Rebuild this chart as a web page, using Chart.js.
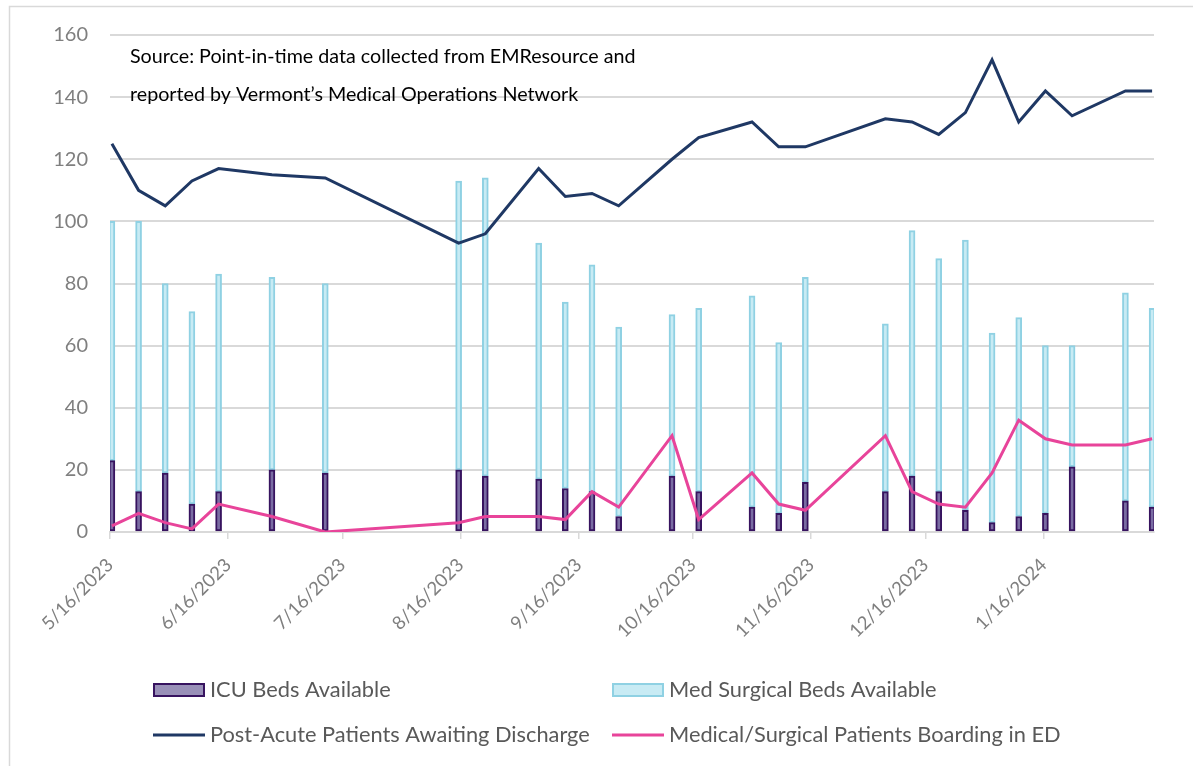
<!DOCTYPE html>
<html>
<head>
<meta charset="utf-8">
<script src="https://cdn.jsdelivr.net/npm/chart.js@4.4.1/dist/chart.umd.min.js"></script>
<style>
  html, body { margin: 0; padding: 0; background: #fff; }
  #wrap { position: relative; width: 1193px; height: 766px; }
</style>
</head>
<body>
<div id="wrap"><canvas id="chart" width="1193" height="766"></canvas></div>
<script>
/* weekly point-in-time snapshots */
const dates = [
  '2023-05-16', '2023-05-23', '2023-05-30', '2023-06-06', '2023-06-13', '2023-06-27', '2023-07-11',
  '2023-08-15', '2023-08-22', '2023-09-05', '2023-09-12', '2023-09-19', '2023-09-26', '2023-10-10',
  '2023-10-17', '2023-10-31', '2023-11-07', '2023-11-14', '2023-12-05', '2023-12-12', '2023-12-19',
  '2023-12-26', '2024-01-02', '2024-01-09', '2024-01-16', '2024-01-23', '2024-02-06', '2024-02-13'
];
const icuBeds     = [23, 13, 19, 9, 13, 20, 19, 20, 18, 17, 14, 13, 5, 18, 13, 8, 6, 16, 13, 18, 13, 7, 3, 5, 6, 21, 10, 8];
const medSurgBeds = [77, 87, 61, 62, 70, 62, 61, 93, 96, 76, 60, 73, 61, 52, 59, 68, 55, 66, 54, 79, 75, 87, 61, 64, 54, 39, 67, 64];
const postAcute   = [125, 110, 105, 113, 117, 115, 114, 93, 96, 117, 108, 109, 105, 120, 127, 132, 124, 124, 133, 132, 128, 135, 152, 132, 142, 134, 142, 142];
const edBoarding  = [2, 6, 3, 1, 9, 5, 0, 3, 5, 5, 4, 13, 8, 31, 4, 19, 9, 7, 31, 13, 9, 8, 19, 36, 30, 28, 28, 30];

const tickDates  = ['2023-05-16', '2023-06-16', '2023-07-16', '2023-08-16', '2023-09-16', '2023-10-16', '2023-11-16', '2023-12-16', '2024-01-16'];
const tickLabels = ['5/16/2023', '6/16/2023', '7/16/2023', '8/16/2023', '9/16/2023', '10/16/2023', '11/16/2023', '12/16/2023', '1/16/2024'];
const axisStart = '2023-05-16';
const axisEnd   = '2024-02-14';

const sourceLines = [
  'Source: Point-in-time data collected from EMResource and',
  'reported by Vermont\u2019s Medical Operations Network'
];

const FONT = 'Lato, "Open Sans", sans-serif';
const GRID = '#d9d9d9';

function dayNum(s) { return (Date.parse(s) - Date.parse(axisStart)) / 86400000; }
// Excel date axis puts each mark in the middle of its day
function pts(vals) { return dates.map((d, i) => ({ x: dayNum(d) + 0.5, y: vals[i] })); }

const framePlugin = {
  id: 'frame',
  beforeDraw(chart) {
    const c = chart.ctx;
    c.save();
    c.strokeStyle = GRID;
    c.lineWidth = 1.5;
    c.beginPath();
    c.moveTo(9.5, 2000); c.lineTo(9.5, 6.5); c.lineTo(2000, 6.5);
    c.stroke();
    c.restore();
  }
};

const sourcePlugin = {
  id: 'source',
  afterDraw(chart) {
    const c = chart.ctx;
    c.save();
    c.font = '19.7px ' + FONT;
    c.fillStyle = '#000';
    c.textBaseline = 'middle';
    sourceLines.forEach((t, i) => c.fillText(t, 130, 57 + i * 38));
    c.restore();
  }
};

const legendPlugin = {
  id: 'gridLegend',
  afterDraw(chart) {
    const c = chart.ctx;
    const ds = chart.data.datasets;
    // ICU, MedSurg, PostAcute, ED
    const slots = [[2, 153, 690], [3, 612, 690], [0, 153, 735], [1, 612, 735]];
    c.save();
    c.font = '21.8px ' + FONT;
    c.textBaseline = 'middle';
    slots.forEach(([k, x, y]) => {
      const d = ds[k];
      if (d.type === 'line') {
        c.strokeStyle = d.borderColor;
        c.lineWidth = 3;
        c.beginPath(); c.moveTo(x, y); c.lineTo(x + 52, y); c.stroke();
      } else {
        c.fillStyle = d.legendFill;
        c.fillRect(x, y - 7, 52, 14);
        c.strokeStyle = d.borderColor;
        c.lineWidth = 2;
        c.strokeRect(x + 1, y - 6, 50, 12);
      }
      c.fillStyle = '#595959';
      c.fillText(d.label, x + 57, y);
    });
    c.restore();
  }
};

new Chart(document.getElementById('chart'), {
  type: 'bar',
  data: {
    datasets: [
      {
        type: 'line',
        label: 'Post-Acute Patients Awaiting Discharge',
        data: pts(postAcute),
        borderColor: '#1f3864',
        borderWidth: 3,
        pointRadius: 0,
        tension: 0,
        stack: 'pa',
        order: 0
      },
      {
        type: 'line',
        label: 'Medical/Surgical Patients Boarding in ED',
        data: pts(edBoarding),
        borderColor: '#e8449a',
        borderWidth: 3,
        pointRadius: 0,
        tension: 0,
        stack: 'ed',
        order: 0
      },
      {
        label: 'ICU Beds Available',
        data: pts(icuBeds),
        backgroundColor: '#7a6ca3',
        legendFill: '#9990b8',
        borderColor: '#37135f',
        borderWidth: 2,
        borderSkipped: false,
        barThickness: 6,
        stack: 'beds',
        order: 1
      },
      {
        label: 'Med Surgical Beds Available',
        data: pts(medSurgBeds),
        backgroundColor: '#c8ebf4',
        legendFill: '#c8ebf4',
        borderColor: '#8fd1e3',
        borderWidth: 2,
        borderSkipped: false,
        barThickness: 6,
        stack: 'beds',
        order: 1
      }
    ]
  },
  options: {
    responsive: false,
    animation: false,
    layout: { padding: { top: 35, right: 39, left: 0, bottom: 0 } },
    plugins: { legend: { display: false }, tooltip: { enabled: false } },
    scales: {
      x: {
        type: 'linear',
        offset: false,
        min: 0,
        max: dayNum(axisEnd),
        afterBuildTicks: s => { s.ticks = tickDates.map(d => ({ value: dayNum(d) })); },
        afterFit: s => { s.height = 234; },
        ticks: {
          callback: (v, i) => tickLabels[i],
          autoSkip: false,
          minRotation: 45,
          maxRotation: 45,
          color: '#7f7f7f',
          font: { family: FONT, size: 18.5 },
          padding: 15
        },
        grid: { offset: false, drawOnChartArea: false, tickLength: 7, color: GRID, lineWidth: 1.5 },
        border: { color: GRID, width: 2 }
      },
      y: {
        stacked: true,
        min: 0,
        max: 160,
        afterFit: s => { s.width = 110; },
        ticks: {
          stepSize: 20,
          color: '#7f7f7f',
          font: { family: FONT, size: 20 },
          padding: 22
        },
        grid: { drawTicks: false, color: GRID, lineWidth: 2 },
        border: { display: false }
      }
    }
  },
  plugins: [framePlugin, sourcePlugin, legendPlugin]
});
</script>
</body>
</html>
